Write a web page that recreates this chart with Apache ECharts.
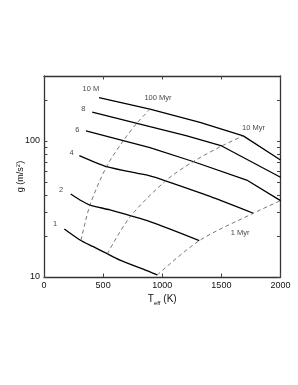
<!DOCTYPE html>
<html>
<head>
<meta charset="utf-8">
<script src="https://cdn.jsdelivr.net/npm/echarts@6/dist/echarts.min.js"></script>
<style>
html,body{margin:0;padding:0;background:#fff;}
#c{width:298px;height:385px;}
</style>
</head>
<body>
<div id="c"></div>
<script>
// Evolutionary tracks (constant mass, M_J): Teff (K) and g (m/s^2)
const track1T = [172, 304, 417, 530, 643, 896, 958];
const track1G = [22.5, 18.7, 16.7, 14.9, 13.3, 10.9, 10.35];
const track2T = [226, 304, 389, 558, 896, 1313];
const track2G = [40.7, 36.8, 33.8, 31.1, 25.5, 18.5];
const track4T = [299, 530, 896, 1009, 1404, 1770];
const track4G = [78, 64.7, 55.3, 51.6, 39.1, 29.4];
const track6T = [355, 896, 1260, 1714, 2000];
const track6G = [118.6, 89.3, 70.6, 51.6, 36.4];
const track8T = [408, 896, 1201, 1503, 2000];
const track8G = [162.6, 127.3, 109.6, 91.8, 54.1];
const track10T = [465, 896, 1319, 1685, 2000];
const track10G = [208, 171, 137, 109, 72.4];

// Isochrones (dashed)
const iso1T = [958, 1313, 1770, 2000];
const iso1G = [10.35, 18.5, 29.4, 36.4];
const iso10T = [535, 727, 1032, 1263, 1503, 1685];
const iso10G = [14.8, 27.6, 51.2, 70.6, 91.8, 109];
const iso100T = [313, 389, 529, 671, 784, 896];
const iso100G = [18.6, 33.8, 64.7, 100.5, 134.6, 171];

// Annotations
const noteText = ['1', '2', '4', '6', '8', '10 M', '100 Myr', '10 Myr', '1 Myr'];
const noteT = [93, 144, 234, 282, 332, 397, 964, 1772, 1658];
const noteG = [24.5, 43.6, 82, 120.5, 171, 239, 207, 124, 21];

// Axes
const yLabelTicks = [10, 100];
const yAllTicks = [10, 20, 30, 40, 50, 60, 70, 80, 90, 100, 200];

const zip = (a, b) => a.map((v, i) => [v, b[i]]);
const FONT = 'Liberation Sans, Arial, Helvetica, sans-serif';
const TICK = 3.5;
const axisLine = { show: true, onZero: false, lineStyle: { color: '#333', width: 1.3 } };
const noLine = { show: false, onZero: false };
const tick = { show: true, inside: false, length: TICK, lineStyle: { color: '#444', width: 1 } };

const tracks = [
  [track1T, track1G], [track2T, track2G], [track4T, track4G],
  [track6T, track6G], [track8T, track8G], [track10T, track10G]
];
const isos = [[iso1T, iso1G], [iso10T, iso10G], [iso100T, iso100G]];

const series = [];
tracks.forEach(function (t, i) {
  series.push({
    type: 'line', data: zip(t[0], t[1]), symbol: 'none',
    smooth: i < 3 ? 0.25 : false,
    lineStyle: { color: '#000', width: 1.3 }, silent: true
  });
});
isos.forEach(function (t) {
  series.push({
    type: 'line', data: zip(t[0], t[1]), symbol: 'none', smooth: 0.3,
    lineStyle: { color: '#555', width: 0.8, type: [4, 3] }, silent: true
  });
});
series.push({
  type: 'scatter', symbolSize: 0, silent: true,
  data: noteText.map((s, i) => ({ name: s, value: [noteT[i], noteG[i]] })),
  label: {
    show: true, position: 'inside', formatter: '{b}',
    fontFamily: FONT, fontSize: 7.5, color: '#111'
  }
});

function xTickAxis(pos) {
  return {
    type: 'value', min: 0, max: 2000, interval: 500, position: pos, offset: -TICK,
    axisLine: noLine, axisTick: tick, axisLabel: { show: false }, splitLine: { show: false }
  };
}
function yTickAxis(pos) {
  return {
    type: 'log', logBase: 10, min: 10, max: 300, position: pos, offset: -TICK,
    axisLine: noLine, axisTick: Object.assign({ customValues: yAllTicks }, tick),
    axisLabel: { show: false }, splitLine: { show: false }, minorTick: { show: false }
  };
}

const chart = echarts.init(document.getElementById('c'), null, { renderer: 'canvas' });
chart.setOption({
  backgroundColor: '#fff',
  animation: false,
  grid: { left: 44, right: 17.5, top: 76, bottom: 108, containLabel: false, outerBoundsMode: 'none' },
  xAxis: [
    {
      type: 'value', min: 0, max: 2000, interval: 500, position: 'bottom',
      axisLine: axisLine,
      axisTick: { show: false },
      axisLabel: { fontFamily: FONT, fontSize: 9, color: '#111', margin: 4, formatter: v => String(v) },
      splitLine: { show: false },
      name: 'T{sub|eff} (K)', nameLocation: 'middle', nameGap: 15, nameMoveOverlap: false,
      nameTextStyle: {
        fontFamily: FONT, fontSize: 10, color: '#111',
        rich: { sub: { fontFamily: FONT, fontSize: 6, verticalAlign: 'bottom', padding: [8, 0, 0, 0] } }
      }
    },
    {
      type: 'value', min: 0, max: 2000, interval: 500, position: 'top',
      axisLine: axisLine, axisTick: { show: false },
      axisLabel: { show: false }, splitLine: { show: false }
    },
    xTickAxis('bottom'),
    xTickAxis('top')
  ],
  yAxis: [
    {
      type: 'log', logBase: 10, min: 10, max: 300, position: 'left',
      axisLine: axisLine,
      axisTick: { show: false },
      axisLabel: { customValues: yLabelTicks, fontFamily: FONT, fontSize: 9, color: '#111', margin: 4 },
      minorTick: { show: false },
      splitLine: { show: false },
      name: 'g (m/s{sup|2})', nameLocation: 'middle', nameGap: 18, nameRotate: 90, nameMoveOverlap: false,
      nameTextStyle: {
        fontFamily: FONT, fontSize: 9, color: '#111',
        rich: { sup: { fontFamily: FONT, fontSize: 6, verticalAlign: 'top', padding: [0, 0, 5, 0] } }
      }
    },
    {
      type: 'log', logBase: 10, min: 10, max: 300, position: 'right',
      axisLine: axisLine, axisTick: { show: false },
      axisLabel: { show: false }, splitLine: { show: false }
    },
    yTickAxis('left'),
    yTickAxis('right')
  ],
  series: series
});
</script>
</body>
</html>
